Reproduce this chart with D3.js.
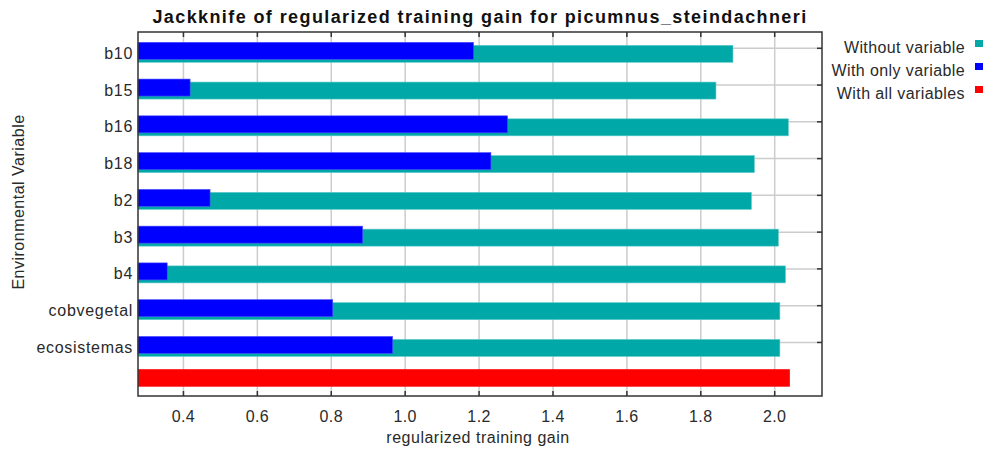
<!DOCTYPE html>
<html>
<head>
<meta charset="utf-8">
<script src="https://cdn.jsdelivr.net/npm/d3@7"></script>
<style>
  html, body { margin: 0; padding: 0; background: #fff; }
  svg { display: block; font-family: "Liberation Sans", Arial, sans-serif; }
</style>
</head>
<body>
<svg id="chart" width="983" height="450"></svg>
<script>
// Jackknife of regularized training gain (MaxEnt style)
const variables = ["b10", "b15", "b16", "b18", "b2", "b3", "b4", "cobvegetal", "ecosistemas"];
const withoutVariable = [1.887, 1.841, 2.037, 1.945, 1.937, 2.010, 2.029, 2.014, 2.014];
const withOnlyVariable = [1.185, 0.418, 1.277, 1.232, 0.472, 0.885, 0.356, 0.804, 0.966];
const withAllVariables = 2.041;
const xTicks = [0.4, 0.6, 0.8, 1.0, 1.2, 1.4, 1.6, 1.8, 2.0];
const legendLabels = ["Without variable", "With only variable", "With all variables"];
const colors = { without: "#00a8a8", only: "#0000ff", all: "#ff0000" };

const svg = d3.select("#chart");
const plot = { left: 138, right: 822, top: 32, bottom: 396 };

svg.append("rect").attr("width", 983).attr("height", 450).attr("fill", "#fff");

const x = d3.scaleLinear().domain([0.277, 2.128]).range([plot.left, plot.right]);
const rows = variables.concat(["__all"]);
const y = d3.scalePoint().domain(rows).range([48.3, 379.2]);

// grid
const grid = svg.append("g").attr("stroke", "#cccccc").attr("stroke-width", 1.5);
grid.selectAll("line.v").data(xTicks).join("line")
  .attr("x1", d => x(d)).attr("x2", d => x(d))
  .attr("y1", plot.top).attr("y2", plot.bottom);
grid.selectAll("line.h").data(variables).join("line")
  .attr("x1", plot.left).attr("x2", plot.right)
  .attr("y1", d => y(d)).attr("y2", d => y(d));

// bars: without variable (behind), with only variable (front)
svg.append("g").selectAll("rect").data(variables).join("rect")
  .attr("x", plot.left)
  .attr("y", d => y(d) - 3)
  .attr("width", (d, i) => x(withoutVariable[i]) - plot.left)
  .attr("height", 17)
  .attr("fill", colors.without)
  .attr("stroke", "#5fcaca").attr("stroke-width", 0.6);

svg.append("g").selectAll("rect").data(variables).join("rect")
  .attr("x", plot.left)
  .attr("y", d => y(d) - 6)
  .attr("width", (d, i) => x(withOnlyVariable[i]) - plot.left)
  .attr("height", 17)
  .attr("fill", colors.only)
  .attr("stroke", "#4d4dff").attr("stroke-width", 0.6);

svg.append("rect")
  .attr("x", plot.left)
  .attr("y", y("__all") - 10)
  .attr("width", x(withAllVariables) - plot.left)
  .attr("height", 17.5)
  .attr("fill", colors.all);

// frame and inner ticks
const frame = svg.append("g").attr("stroke", "#333").attr("stroke-width", 1.5).attr("fill", "none");
frame.append("rect")
  .attr("x", plot.left).attr("y", plot.top)
  .attr("width", plot.right - plot.left).attr("height", plot.bottom - plot.top);
frame.selectAll("line.t").data(xTicks).join("line")
  .attr("x1", d => x(d)).attr("x2", d => x(d))
  .attr("y1", plot.top).attr("y2", plot.top + 5);
frame.selectAll("line.b").data(xTicks).join("line")
  .attr("x1", d => x(d)).attr("x2", d => x(d))
  .attr("y1", plot.bottom).attr("y2", plot.bottom - 5);
frame.selectAll("line.r").data(variables).join("line")
  .attr("x1", plot.right).attr("x2", plot.right - 5)
  .attr("y1", d => y(d)).attr("y2", d => y(d));

// tick labels
svg.append("g").selectAll("text").data(xTicks).join("text")
  .attr("x", d => x(d)).attr("y", 421.5)
  .attr("text-anchor", "middle")
  .attr("font-size", 16).attr("letter-spacing", 0.4).attr("fill", "#2a2a2a")
  .text(d => d3.format(".1f")(d));

svg.append("g").selectAll("text").data(variables).join("text")
  .attr("x", 133).attr("y", d => y(d) + 10.5)
  .attr("text-anchor", "end")
  .attr("font-size", 16).attr("letter-spacing", 0.7).attr("fill", "#2a2a2a")
  .text(d => d);

// titles
svg.append("text")
  .attr("x", 480).attr("y", 23)
  .attr("text-anchor", "middle")
  .attr("font-size", 18).attr("font-weight", "bold").attr("letter-spacing", 1.4).attr("fill", "#111")
  .text("Jackknife of regularized training gain for picumnus_steindachneri");

svg.append("text")
  .attr("x", 478).attr("y", 443)
  .attr("text-anchor", "middle")
  .attr("font-size", 16).attr("letter-spacing", 0.5).attr("fill", "#2a2a2a")
  .text("regularized training gain");

svg.append("text")
  .attr("transform", "translate(23.5,202) rotate(-90)")
  .attr("text-anchor", "middle")
  .attr("font-size", 16).attr("letter-spacing", 0.5).attr("fill", "#2a2a2a")
  .text("Environmental Variable");

// legend
const legend = svg.append("g");
const legendColors = [colors.without, colors.only, colors.all];
legend.selectAll("text").data(legendLabels).join("text")
  .attr("x", 965).attr("y", (d, i) => 52.5 + i * 23)
  .attr("text-anchor", "end")
  .attr("font-size", 16).attr("letter-spacing", 0.4).attr("fill", "#2a2a2a")
  .text(d => d);
legend.selectAll("rect").data(legendLabels).join("rect")
  .attr("x", 975).attr("y", (d, i) => 40 + i * 23)
  .attr("width", 8).attr("height", 7)
  .attr("fill", (d, i) => legendColors[i]);
</script>
</body>
</html>
